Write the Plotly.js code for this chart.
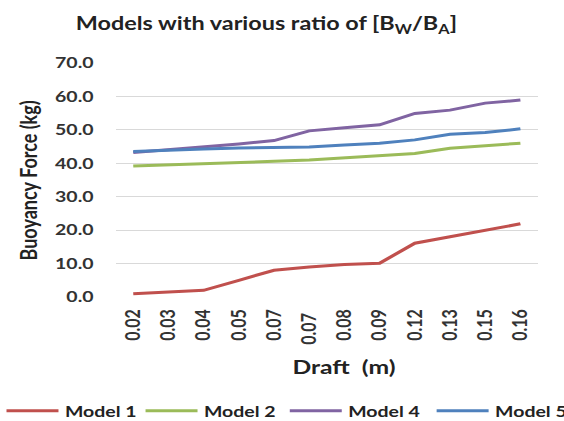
<!DOCTYPE html>
<html>
<head>
<meta charset="utf-8">
<script src="https://cdn.plot.ly/plotly-3.0.1.min.js"></script>
<style>
html,body{margin:0;padding:0;background:#fff;overflow:hidden;}
#wrap{width:564px;height:421px;overflow:hidden;}
#chart{width:434px;height:421px;transform:scaleX(1.2995);transform-origin:0 0;}
</style>
</head>
<body>
<div id="wrap"><div id="chart"></div></div>
<script>
const drafts = ["0.02","0.03","0.04","0.05","0.07","0.07 ","0.08","0.09","0.12","0.13","0.15","0.16"];
const model1 = [1.0, 1.5, 2.0, 5.0, 8.0, 9.0, 9.7, 10.1, 16.1, 18.0, 20.0, 21.9];
const model2 = [39.2, 39.5, 39.9, 40.2, 40.6, 41.0, 41.6, 42.2, 42.9, 44.5, 45.3, 46.0];
const model4 = [43.2, 44.0, 44.8, 45.8, 46.8, 49.7, 50.6, 51.5, 54.9, 55.9, 58.0, 58.9];
const model5 = [43.5, 44.0, 44.3, 44.6, 44.8, 44.9, 45.5, 46.0, 47.0, 48.7, 49.2, 50.3];
const names = ["Model 1","Model 2","Model 4","Model 5"];
const colors = ["#C0504D","#9BBB59","#8064A2","#4F81BD"];
const series = [model1, model2, model4, model5];

const W = 434, H = 421;
const PL = 89, PR = 20, PT = 63, PB = 124;
const PW = W - PL - PR, PH = H - PT - PB;
const F = "Lato, 'Open Sans', sans-serif";
const legendIds = ["legend","legend2","legend3","legend4"];
const legendX = [0, 107, 218, 331];

const traces = series.map((s,i)=>({
  x: drafts, y: s, type: "scatter", mode: "lines", name: names[i],
  legend: legendIds[i],
  line: {color: colors[i], width: 3}
}));

const layout = {
  width: W, height: H,
  margin: {l:PL, r:PR, t:PT, b:PB},
  paper_bgcolor: "#fff", plot_bgcolor: "#fff",
  font: {family: F, color: "#333", size: 15},
  title: {text: "<b>Models with various ratio of [B<sub>W</sub>/B<sub>A</sub>]</b>",
          x: 205/W, xanchor: "center", xref: "container", y: 1 - 24/H, yanchor: "middle",
          font: {family: F, size: 18, color: "#222"}},
  xaxis: {type: "category", range: [-0.5, 11.5], tickangle: -90, showgrid: false, zeroline: false,
          showline: false, ticks: "", ticklabelstandoff: 8,
          tickfont: {family: F, size: 16, color: "#333", weight: "bold"}},
  yaxis: {range: [0,70], dtick: 10, tickformat: ".1f", showgrid: true, gridcolor: "#d9d9d9",
          gridwidth: 1, zeroline: false, showline: false, ticks: "", ticklabelstandoff: 16,
          tickfont: {family: F, size: 15, color: "#333", weight: "bold"}},
  annotations: [
    {text: "<b>Draft  (m)</b>", xref: "paper", yref: "paper",
     x: (264 - PL) / PW, y: -(366 - 297) / PH,
     xanchor: "center", yanchor: "middle", showarrow: false,
     font: {family: F, size: 19, color: "#222"}},
    {text: "<b>Buoyancy Force (kg)</b>", xref: "paper", yref: "paper", textangle: -90,
     x: (21 - PL) / PW, y: (297 - 180.5) / PH,
     xanchor: "center", yanchor: "middle", showarrow: false,
     font: {family: F, size: 18, color: "#222"}}
  ],
  showlegend: true
};
legendIds.forEach((id,i)=>{
  layout[id] = {orientation: "h", xref: "container", yref: "container",
    x: legendX[i]/W, y: 1 - 411/H, xanchor: "left", yanchor: "middle",
    itemwidth: 40, bgcolor: "rgba(0,0,0,0)",
    font: {family: F, size: 15, color: "#222", weight: "bold"}};
});
Plotly.newPlot("chart", traces, layout, {displayModeBar: false, staticPlot: true});
</script>
</body>
</html>
